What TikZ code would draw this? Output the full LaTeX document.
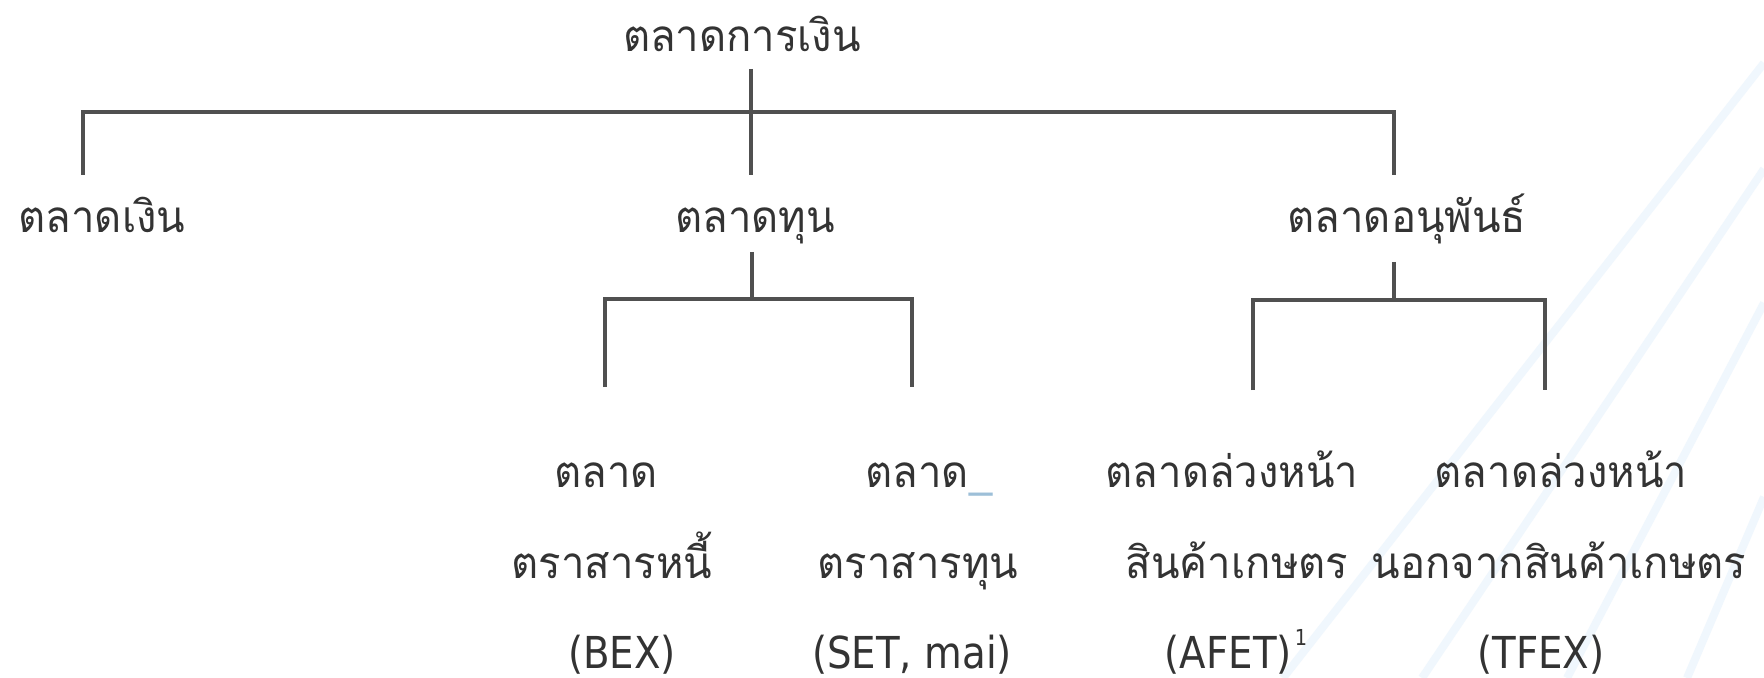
\documentclass[tikz,border=0pt]{standalone}
\usepackage{fontspec}
\newfontfamily\thaifont[Script=Thai,FakeStretch=0.95]{Loma}
\newfontfamily\latfont[FakeStretch=0.88]{DejaVu Sans}
\definecolor{txt}{HTML}{333333}
\definecolor{ln}{HTML}{505050}
\definecolor{stripe}{HTML}{F0F7FD}
\definecolor{uline}{HTML}{9DBFD8}
\begin{document}
\begin{tikzpicture}[x=0.5pt,y=-0.5pt,
  th/.style={font=\thaifont\fontsize{22}{26}\selectfont, text=txt, inner sep=0pt, anchor=base},
  la/.style={font=\latfont\fontsize{22}{26}\selectfont, text=txt, inner sep=0pt, anchor=base},
  conn/.style={draw=ln, line width=2pt, line join=miter},
  stripeline/.style={draw=stripe, line width=4pt}]
\useasboundingbox (0,0) rectangle (1764,678);
\fill[white] (0,0) rectangle (1764,678);
% background stripes
\draw[stripeline] (1283,678) -- (1764,63);
\draw[stripeline] (1422,678) -- (1764,169);
\draw[stripeline] (1567,678) -- (1764,303);
\draw[stripeline] (1687,678) -- (1764,497);
% nodes
\node[th] (root) at (742,52) {ตลาดการเงิน};
\node[th] (money) at (102,233) {ตลาดเงิน};
\node[th] (capital) at (755,233) {ตลาดทุน};
\node[th] (deriv) at (1407,233) {ตลาดอนุพันธ์};
\node[th] (bexA) at (606,487) {ตลาด};
\node[th] (bexB) at (612,578) {ตราสารหนี้};
\node[la] (bexC) at (622,668) {(BEX)};
\node[th] (setA) at (929,487) {ตลาด\textcolor{uline}{\_}};
\node[th] (setB) at (918,578) {ตราสารทุน};
\node[la] (setC) at (912,668) {(SET, mai)};
\node[th] (afetA) at (1232,487) {ตลาดล่วงหน้า};
\node[th] (afetB) at (1237,578) {สินค้าเกษตร};
\node[la] (afetC) at (1236,668) {(AFET)\kern1.5pt\raisebox{0.52em}{\fontsize{11}{12}\selectfont 1}};
\node[th] (tfexA) at (1561,487) {ตลาดล่วงหน้า};
\node[th] (tfexB) at (1559,578) {นอกจากสินค้าเกษตร};
\node[la] (tfexC) at (1541,668) {(TFEX)};
% connector ends
\coordinate (rootS) at (751,69);
\coordinate (capN) at (751,175);
\coordinate (monN) at (83,175);
\coordinate (derN) at (1394,175);
\coordinate (bar1) at (0,112);
\coordinate (capS) at (752,252);
\coordinate (bar2) at (0,299);
\coordinate (bexN) at (605,387);
\coordinate (setN) at (912,387);
\coordinate (derS) at (1394,262);
\coordinate (bar3) at (0,300);
\coordinate (afetN) at (1253,390);
\coordinate (tfexN) at (1545,390);
% connectors
\draw[conn] (monN) -- (monN |- bar1) -- (derN |- bar1) -- (derN);
\draw[conn] (rootS) -- (capN);
\draw[conn] (capS) -- (capS |- bar2);
\draw[conn] (bexN) -- (bexN |- bar2) -- (setN |- bar2) -- (setN);
\draw[conn] (derS) -- (derS |- bar3);
\draw[conn] (afetN) -- (afetN |- bar3) -- (tfexN |- bar3) -- (tfexN);
\end{tikzpicture}
\end{document}
